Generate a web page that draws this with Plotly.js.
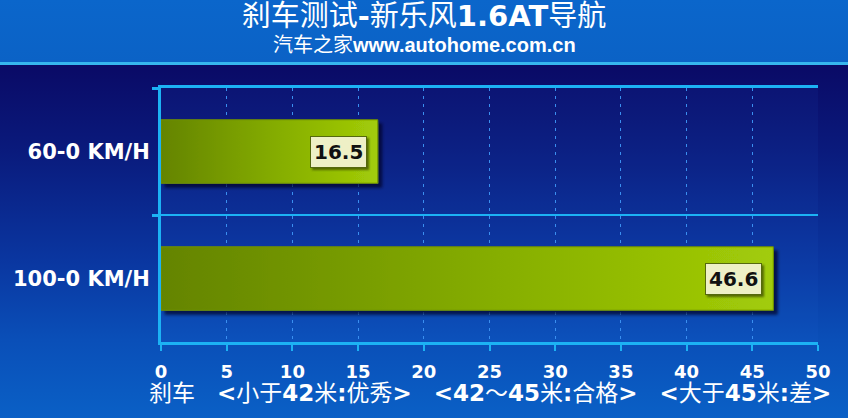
<!DOCTYPE html>
<html>
<head>
<meta charset="utf-8">
<script src="https://cdn.plot.ly/plotly-3.0.1.min.js"></script>
<style>
  html, body { margin: 0; padding: 0; }
  #chart {
    width: 848px; height: 418px;
    background: linear-gradient(to bottom,
      #0b66cb 0px, #0b62c6 62px,
      #36b6ee 62px, #36b6ee 65px,
      #0a0a66 65px, #0a1a7c 150px, #0a36a0 260px, #0a4fb8 340px, #0a60c6 418px);
  }
</style>
</head>
<body>
<div id="chart"></div>
<script>
const categories = ['60-0 KM/H', '100-0 KM/H'];
const distances = [16.5, 46.6];
const titleText = '刹车测试<b>-</b>新乐风<b>1.6AT</b>导航';
const subtitleText = '汽车之家<b>www.autohome.com.cn</b>';
const sp = '\u00a0\u00a0\u00a0';
const noteText = '刹车' + sp + '<b>&lt;</b>小于<b>42</b>米<b>:</b>优秀<b>&gt;</b>' + sp + '<b>&lt;42</b>～<b>45</b>米<b>:</b>合格<b>&gt;</b>' + sp + '<b>&lt;</b>大于<b>45</b>米<b>:</b>差<b>&gt;</b>';

const cyan = '#1cb2f4';
const verdana = 'DejaVu Sans, Verdana, Noto Sans CJK SC, sans-serif';

const trace = {
  type: 'bar',
  orientation: 'h',
  x: distances,
  y: categories,
  width: 0.5,
  marker: { color: '#84ac00', line: { color: '#6f9000', width: 1 } },
  hoverinfo: 'skip'
};

const valueAnnotations = distances.map((v, i) => ({
  x: v, y: categories[i], xref: 'x', yref: 'y',
  text: v.toFixed(1),
  xanchor: 'right', yanchor: 'middle', xshift: -11,
  showarrow: false,
  bgcolor: '#eef0c6', bordercolor: '#55690a', borderwidth: 1, borderpad: 3,
  font: { family: verdana, size: 20, color: '#111', weight: 'bold' }
}));

const layout = {
  width: 848, height: 418,
  margin: { l: 161, r: 30, t: 88, b: 76 },
  paper_bgcolor: 'rgba(0,0,0,0)',
  plot_bgcolor: 'rgba(40,110,230,0.07)',
  showlegend: false,
  title: {
    text: titleText,
    x: 0.5, xref: 'container', xanchor: 'center',
    y: 1 - 16 / 418, yref: 'container', yanchor: 'middle',
    font: { family: 'DejaVu Sans, Noto Sans CJK SC, sans-serif', size: 29, color: '#ffffff' }
  },
  xaxis: {
    range: [0, 50], dtick: 5, tick0: 0,
    showline: true, linecolor: cyan, linewidth: 3, mirror: true,
    ticks: 'outside', ticklen: 6, tickwidth: 2, tickcolor: cyan,
    showgrid: true, gridcolor: '#3a8ff0', gridwidth: 1, griddash: '3px,5px',
    zeroline: false,
    ticklabelstandoff: 5,
    tickfont: { family: verdana, size: 18, color: '#ffffff', weight: 'bold' },
    fixedrange: true
  },
  yaxis: {
    type: 'category', categoryorder: 'array', categoryarray: categories,
    autorange: 'reversed',
    tickson: 'boundaries',
    showline: true, linecolor: cyan, linewidth: 3,
    ticks: 'outside', ticklen: 6, tickwidth: 3, tickcolor: cyan,
    showgrid: true, gridcolor: cyan, gridwidth: 2,
    zeroline: false,
    ticklabelstandoff: 4,
    tickfont: { family: verdana, size: 21, color: '#ffffff', weight: 'bold' },
    fixedrange: true
  },
  annotations: [
    ...valueAnnotations,
    {
      text: subtitleText, xref: 'paper', yref: 'paper',
      x: (424 - 161) / 657, y: 1, yshift: 43, xanchor: 'center', yanchor: 'middle',
      showarrow: false,
      font: { family: 'Liberation Sans, Arial, Noto Sans CJK SC, sans-serif', size: 20, color: '#ffffff' }
    },
    {
      text: noteText, xref: 'paper', yref: 'paper',
      x: 0.5, y: 0, yshift: -51, xanchor: 'center', yanchor: 'middle',
      showarrow: false,
      font: { family: verdana, size: 23, color: '#ffffff' }
    }
  ]
};

Plotly.newPlot('chart', [trace], layout, { displayModeBar: false, staticPlot: true }).then(gd => {
  const svg = gd.querySelector('svg.main-svg');
  const NS = 'http://www.w3.org/2000/svg';
  let defs = svg.querySelector('defs');
  if (!defs) { defs = document.createElementNS(NS, 'defs'); svg.insertBefore(defs, svg.firstChild); }
  const grad = document.createElementNS(NS, 'linearGradient');
  grad.setAttribute('id', 'barGrad');
  grad.setAttribute('x1', '0'); grad.setAttribute('x2', '1');
  grad.setAttribute('y1', '0'); grad.setAttribute('y2', '0');
  [['0', '#648400'], ['0.55', '#86ae00'], ['1', '#a2cc08']].forEach(([o, c]) => {
    const s = document.createElementNS(NS, 'stop');
    s.setAttribute('offset', o); s.setAttribute('stop-color', c);
    grad.appendChild(s);
  });
  defs.appendChild(grad);
  const filt = document.createElementNS(NS, 'filter');
  filt.setAttribute('id', 'shadow');
  filt.setAttribute('x', '-10%'); filt.setAttribute('y', '-20%');
  filt.setAttribute('width', '130%'); filt.setAttribute('height', '150%');
  const ds = document.createElementNS(NS, 'feDropShadow');
  ds.setAttribute('dx', '4'); ds.setAttribute('dy', '4');
  ds.setAttribute('stdDeviation', '1.5');
  ds.setAttribute('flood-color', '#000020'); ds.setAttribute('flood-opacity', '0.7');
  filt.appendChild(ds);
  defs.appendChild(filt);
  const filt2 = filt.cloneNode(true);
  filt2.setAttribute('id', 'shadow2');
  filt2.firstChild.setAttribute('dx', '2'); filt2.firstChild.setAttribute('dy', '2');
  filt2.firstChild.setAttribute('stdDeviation', '1');
  filt2.firstChild.setAttribute('flood-color', '#304000');
  defs.appendChild(filt2);
  gd.querySelectorAll('.bars .point path').forEach(p => {
    p.style.fill = 'url(#barGrad)';
    p.setAttribute('filter', 'url(#shadow)');
  });
  gd.querySelectorAll('.annotation').forEach((a, i) => {
    if (i < distances.length) {
      const bg = a.querySelector('rect.bg');
      if (bg) bg.setAttribute('filter', 'url(#shadow2)');
    }
  });
});
</script>
</body>
</html>
